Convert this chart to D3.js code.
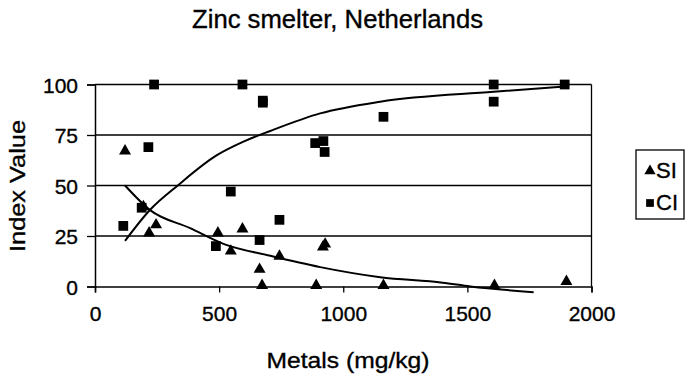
<!DOCTYPE html>
<html>
<head>
<meta charset="utf-8">
<script src="https://cdn.jsdelivr.net/npm/d3@7"></script>
<style>
  body { margin: 0; background: #fff; }
  text { font-family: "Liberation Sans", Arial, sans-serif; fill: #000; stroke: #000; stroke-width: 0.35px; }
</style>
</head>
<body>
<svg id="chart" width="689" height="379"></svg>
<script>
// SI index points (metals mg/kg, index value)
const siX = [121, 195, 218, 246, 495, 547, 594, 663, 673, 743, 891, 918, 927, 1162, 1609, 1899];
const siY = [66.6, 39, 26, 30, 26, 17, 28, 8, 0, 14.5, 0, 19, 20.5, 0, 0, 2];
// CI index points
const ciX = [114, 188, 215, 238, 487, 547, 594, 663, 676, 676, 743, 887, 920, 925, 1162, 1606, 1606, 1892];
const ciY = [30, 39, 69, 100, 20, 47, 100, 23, 92, 91, 33, 71, 72, 66.6, 84, 100, 91.5, 100];
// trend lines
const siTrendX = [121, 222, 383, 520, 706, 907, 1149, 1400, 1512, 1767];
const siTrendY = [50, 37.8, 28.9, 21, 15.2, 9.6, 4.6, 1.9, 0, -2.8];
const ciTrendX = [121, 222, 336, 491, 598, 706, 907, 1149, 1606, 1892];
const ciTrendY = [22.6, 38, 50.3, 65, 71.7, 77, 85.7, 91.5, 96.4, 99];

const xTicks = [0, 500, 1000, 1500, 2000];
const yTicks = [0, 25, 50, 75, 100];
const seriesNames = ['SI', 'CI'];

const svg = d3.select('#chart');
const x = d3.scaleLinear().domain([0, 2000]).range([95, 591.5]);
const y = d3.scaleLinear().domain([0, 100]).range([286.5, 84.5]);

// title
svg.append('text')
  .attr('x', 337.5).attr('y', 28)
  .attr('text-anchor', 'middle')
  .attr('textLength', 291).attr('lengthAdjust', 'spacingAndGlyphs')
  .style('font-size', '25px')
  .text('Zinc smelter, Netherlands');

// gridlines
svg.append('g')
  .selectAll('line')
  .data(yTicks.filter(d => d > 0))
  .enter()
  .append('line')
  .attr('x1', x(0)).attr('x2', x(2000))
  .attr('y1', d => y(d)).attr('y2', d => y(d))
  .attr('stroke', '#000')
  .attr('stroke-width', 1.3);

// right border
svg.append('line')
  .attr('x1', x(2000)).attr('x2', x(2000))
  .attr('y1', y(100)).attr('y2', y(0))
  .attr('stroke', '#000').attr('stroke-width', 1.3);

// axes
const xAxis = svg.append('g')
  .attr('transform', 'translate(0,' + y(0) + ')')
  .call(d3.axisBottom(x).tickValues(xTicks).tickSize(6).tickPadding(14).tickFormat(d3.format('d')));
const yAxis = svg.append('g')
  .attr('transform', 'translate(' + x(0) + ',0)')
  .call(d3.axisLeft(y).tickValues(yTicks).tickSize(8).tickPadding(9));
[xAxis, yAxis].forEach(g => {
  g.select('.domain').attr('stroke', '#000').attr('stroke-width', 1.5);
  g.selectAll('.tick line').attr('stroke', '#000').attr('stroke-width', 1.3);
  g.selectAll('.tick text')
    .attr('fill', '#000')
    .style('font-family', '"Liberation Sans", Arial, sans-serif')
    .style('font-size', '21px');
});
yAxis.selectAll('.tick text').attr('dy', '0.36em');

// axis titles
svg.append('text')
  .attr('x', 348).attr('y', 368)
  .attr('text-anchor', 'middle')
  .attr('textLength', 163).attr('lengthAdjust', 'spacingAndGlyphs')
  .style('font-size', '22px')
  .text('Metals (mg/kg)');
svg.append('text')
  .attr('transform', 'translate(25,186) rotate(-90)')
  .attr('text-anchor', 'middle')
  .attr('textLength', 132).attr('lengthAdjust', 'spacingAndGlyphs')
  .style('font-size', '22px')
  .text('Index Value');

// trend lines
const line = d3.line()
  .x(d => x(d[0]))
  .y(d => y(d[1]))
  .curve(d3.curveMonotoneX);
[[siTrendX, siTrendY], [ciTrendX, ciTrendY]].forEach(([xs, ys]) => {
  svg.append('path')
    .attr('d', line(xs.map((v, i) => [v, ys[i]])))
    .attr('fill', 'none')
    .attr('stroke', '#000')
    .attr('stroke-width', 2);
});

const tri = d3.symbol().type(d3.symbolTriangle).size(62);
const sq = d3.symbol().type(d3.symbolSquare).size(95);

// points
svg.append('g')
  .selectAll('path')
  .data(siX.map((v, i) => [v, siY[i]]))
  .enter()
  .append('path')
  .attr('d', tri)
  .attr('transform', d => 'translate(' + x(d[0]) + ',' + (y(d[1]) - 1) + ')')
  .attr('fill', '#000');
svg.append('g')
  .selectAll('path')
  .data(ciX.map((v, i) => [v, ciY[i]]))
  .enter()
  .append('path')
  .attr('d', sq)
  .attr('transform', d => 'translate(' + x(d[0]) + ',' + y(d[1]) + ')')
  .attr('fill', '#000');

// legend
const legend = svg.append('g');
legend.append('rect')
  .attr('x', 636).attr('y', 150)
  .attr('width', 48).attr('height', 69)
  .attr('fill', '#fff')
  .attr('stroke', '#000').attr('stroke-width', 1.3);
const items = legend.selectAll('g.item')
  .data(seriesNames)
  .enter()
  .append('g')
  .attr('transform', (d, i) => 'translate(650,' + (171 + i * 32) + ')');
items.append('path')
  .attr('d', (d, i) => i === 0 ? d3.symbol().type(d3.symbolTriangle).size(55)() : d3.symbol().type(d3.symbolSquare).size(60)())
  .attr('fill', '#000');
items.append('text')
  .attr('x', 6).attr('y', 7)
  .style('font-size', '22px')
  .text(d => d);
</script>
</body>
</html>
